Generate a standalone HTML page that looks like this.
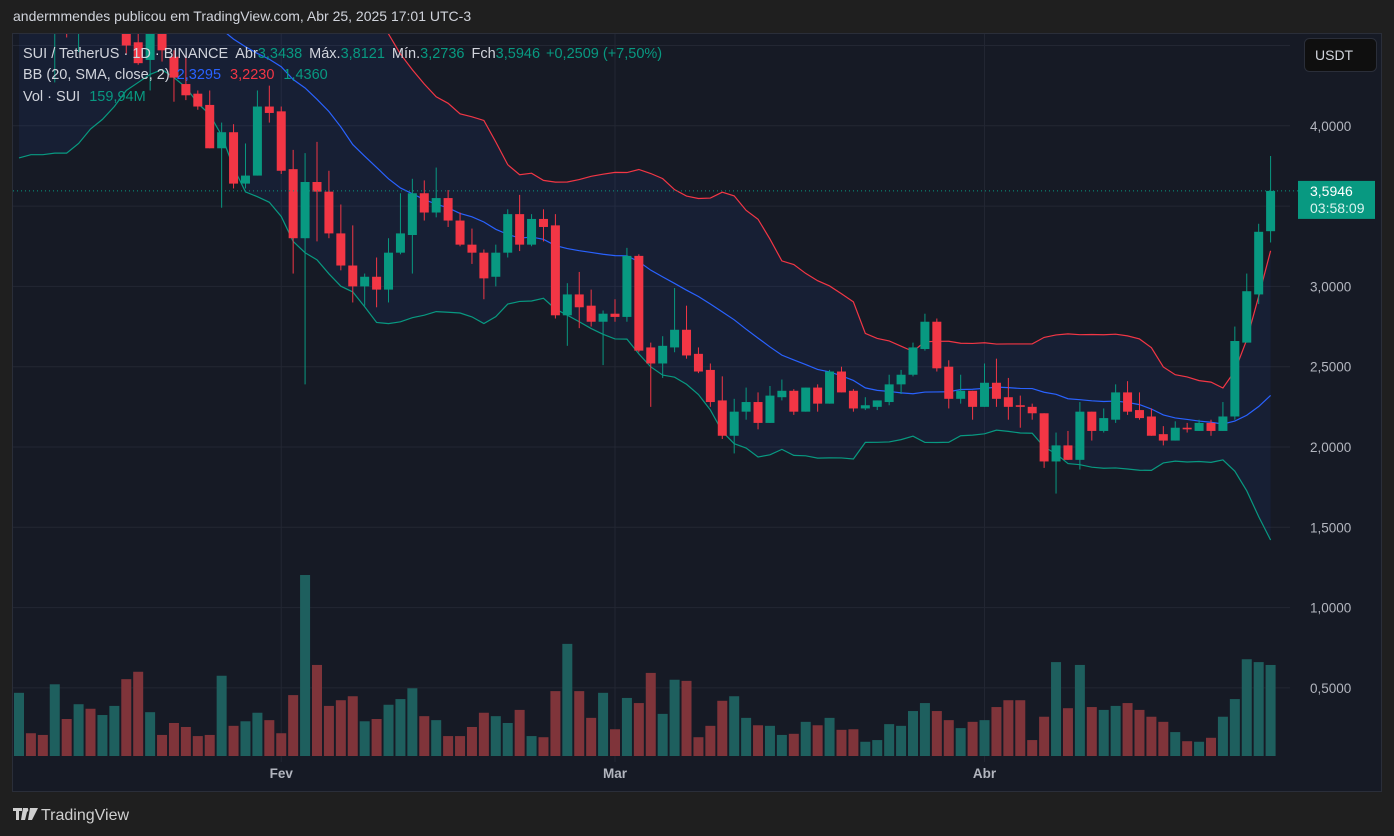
<!DOCTYPE html>
<html><head><meta charset="utf-8"><title>SUI / TetherUS</title>
<style>
html,body{margin:0;padding:0;background:#1f1f1f;width:1394px;height:836px;overflow:hidden;font-family:"Liberation Sans",sans-serif;}
svg{display:block}
</style></head>
<body>
<svg id="chart" width="1394" height="836" xmlns="http://www.w3.org/2000/svg" font-family="Liberation Sans, sans-serif">
  <rect x="0" y="0" width="1394" height="836" fill="#1f1f1f"/>
  <text x="13" y="21" fill="#d1d4dc" font-size="14">andermmendes publicou em TradingView.com, Abr 25, 2025 17:01 UTC-3</text>
  <rect x="12.5" y="33.5" width="1369" height="758" fill="#161a25" stroke="#2a2e39" stroke-width="1"/>
  <defs><clipPath id="plotClip"><rect x="13" y="34" width="1277" height="757"/></clipPath></defs>
  <g id="grid"></g>
  <g id="bands" clip-path="url(#plotClip)"></g>
  <g id="vols" clip-path="url(#plotClip)"></g>
  <g id="candles" clip-path="url(#plotClip)"></g>
  <g id="axes"></g>
  <g font-size="14.5">
    <text x="23" y="58"><tspan fill="#d1d4dc">SUI / TetherUS · 1D · BINANCE</tspan><tspan fill="#d1d4dc" dx="7">Abr</tspan><tspan fill="#089981">3,3438</tspan><tspan fill="#d1d4dc" dx="7">Máx.</tspan><tspan fill="#089981">3,8121</tspan><tspan fill="#d1d4dc" dx="7">Mín.</tspan><tspan fill="#089981">3,2736</tspan><tspan fill="#d1d4dc" dx="7">Fch</tspan><tspan fill="#089981">3,5946</tspan><tspan fill="#089981" dx="6">+0,2509 (+7,50%)</tspan></text>
    <text x="23" y="79"><tspan fill="#d1d4dc">BB (20, SMA, close, 2)</tspan><tspan fill="#2962ff" dx="7">2,3295</tspan><tspan fill="#f23645" dx="9">3,2230</tspan><tspan fill="#089981" dx="9">1,4360</tspan></text>
    <text x="23" y="101"><tspan fill="#d1d4dc">Vol · SUI</tspan><tspan fill="#089981" dx="9">159,94M</tspan></text>
  </g>
  <g>
    <rect x="1304.5" y="38.5" width="72" height="33" rx="5" fill="#0f0f0f" stroke="#2a2e39"/>
    <text x="1315" y="60" fill="#d1d4dc" font-size="14">USDT</text>
  </g>
  <g>
    <path d="M13 808h9v3h-3v9h-3v-9h-3z M23 808h5l-3 12h-4z" fill="#cfcfcf"/>
    <circle cx="26.5" cy="810" r="1.8" fill="#cfcfcf"/>
    <path d="M30 808h8l-6 12h-4z" fill="#cfcfcf"/>
    <text x="41" y="820" fill="#cfcfcf" font-size="16">TradingView</text>
  </g>
</svg>
<script>
// ---- data ----
const opens  = [4.70,4.95,4.80,4.65,4.90,4.70,5.00,4.85,5.05,5.20,4.52,4.41,4.62,4.43,4.26,4.20,4.13,3.86,3.96,3.64,3.69,4.12,4.09,3.73,3.30,3.65,3.59,3.33,3.13,3.00,3.06,2.98,3.21,3.32,3.58,3.46,3.55,3.41,3.26,3.21,3.06,3.21,3.45,3.26,3.42,3.38,2.82,2.95,2.88,2.78,2.83,2.81,3.19,2.62,2.52,2.62,2.73,2.58,2.48,2.29,2.07,2.22,2.28,2.15,2.31,2.35,2.22,2.37,2.27,2.47,2.35,2.24,2.25,2.28,2.39,2.45,2.61,2.78,2.50,2.30,2.35,2.25,2.40,2.31,2.26,2.25,2.21,1.91,2.01,1.92,2.22,2.10,2.17,2.34,2.23,2.19,2.08,2.04,2.12,2.10,2.15,2.10,2.19,2.65,2.95,3.3438];
const closes = [4.95,4.80,4.65,4.90,4.70,5.00,4.85,5.05,5.20,4.50,4.39,4.62,4.47,4.30,4.19,4.12,3.86,3.96,3.64,3.69,4.12,4.08,3.72,3.30,3.65,3.59,3.33,3.13,3.00,3.06,2.98,3.21,3.33,3.58,3.46,3.55,3.41,3.26,3.21,3.05,3.21,3.45,3.26,3.42,3.37,2.82,2.95,2.87,2.78,2.83,2.81,3.19,2.60,2.52,2.63,2.73,2.57,2.47,2.28,2.07,2.22,2.28,2.15,2.32,2.35,2.22,2.37,2.27,2.47,2.34,2.24,2.26,2.29,2.39,2.45,2.62,2.78,2.49,2.30,2.35,2.25,2.40,2.30,2.25,2.25,2.21,1.91,2.01,1.92,2.22,2.10,2.18,2.34,2.22,2.18,2.07,2.04,2.12,2.11,2.15,2.10,2.19,2.66,2.97,3.34,3.5946];
const highs  = [5.10,5.05,4.90,5.00,5.00,5.10,5.10,5.20,5.30,5.30,4.65,4.75,4.70,4.47,4.44,4.22,4.22,4.02,4.01,3.89,4.22,4.25,4.12,3.85,3.83,3.90,3.72,3.51,3.38,3.08,3.18,3.30,3.58,3.67,3.66,3.74,3.60,3.46,3.36,3.23,3.26,3.48,3.57,3.45,3.48,3.45,3.02,3.09,2.98,2.85,2.92,3.24,3.20,2.65,2.69,2.99,2.88,2.62,2.52,2.44,2.30,2.37,2.34,2.38,2.42,2.36,2.37,2.39,2.48,2.50,2.36,2.31,2.29,2.45,2.48,2.65,2.83,2.80,2.54,2.45,2.35,2.52,2.55,2.43,2.32,2.27,2.21,2.09,2.10,2.28,2.22,2.24,2.39,2.41,2.34,2.24,2.13,2.16,2.15,2.17,2.17,2.28,2.75,3.08,3.39,3.8121];
const lows   = [4.60,4.70,4.60,4.27,4.55,4.46,4.70,4.75,4.95,4.45,4.38,4.22,4.40,4.15,4.16,4.10,3.86,3.49,3.61,3.61,3.69,4.02,3.70,3.08,2.39,3.28,3.30,3.10,2.90,2.88,2.87,2.90,3.20,3.08,3.41,3.43,3.37,3.25,3.14,2.92,3.00,3.18,3.22,3.25,3.28,2.80,2.63,2.74,2.75,2.51,2.78,2.78,2.59,2.25,2.43,2.59,2.55,2.46,2.25,2.05,1.96,2.17,2.11,2.15,2.29,2.20,2.22,2.22,2.27,2.34,2.22,2.23,2.23,2.26,2.33,2.44,2.60,2.47,2.24,2.27,2.17,2.25,2.25,2.17,2.12,2.17,1.87,1.71,1.92,1.86,2.04,2.09,2.15,2.20,2.17,2.07,2.01,2.04,2.09,2.10,2.07,2.10,2.17,2.65,2.89,3.2736];
const volumes = [111,40,37,126,65,91,83,72,88,135,148,77,37,58,51,35,37,141,53,61,76,63,40,107,318,160,88,98,105,61,65,90,100,119,70,63,35,35,51,76,70,58,81,35,33,114,197,114,67,111,47,102,93,146,74,134,132,33,53,97,105,67,54,53,37,39,60,54,67,46,47,25,28,56,53,79,93,79,63,49,60,63,86,98,98,28,69,165,84,160,86,81,88,93,81,69,60,42,26,25,32,69,100,170,165,159.94];
// Bollinger values before a full 20-bar window exists
const bbLowerEarly = [3.80,3.82,3.82,3.83,3.83,3.89,3.98,4.04,4.12,4.22,4.27,4.32,4.35,4.30,4.24,4.14,4.07,3.94,3.74];
const bbMidEarly   = [4.95,4.95,4.95,4.95,4.95,4.95,4.95,4.93,4.92,4.90,4.88,4.85,4.82,4.78,4.74,4.70,4.65,4.60,4.54];
const priceTicks = [4.5,4,3.5,3,2.5,2,1.5,1,0.5];
const priceTickLabels = ['', '4,0000', '', '3,0000', '2,5000', '2,0000', '1,5000', '1,0000', '0,5000'];
const timeTickIdx = [22,50,81];
const timeTickLabels = ['Fev','Mar','Abr'];
const lastPriceLabel = '3,5946';
const countdownLabel = '03:58:09';

// ---- scales ----
const NS='http://www.w3.org/2000/svg';
const yP = p => 447 - (p-2)*160.6;
const xI = i => 19 + i*11.92;
const yV = v => 756 - v/1.757;
function mk(tag, attrs, parent){const e=document.createElementNS(NS,tag);for(const k in attrs)e.setAttribute(k,attrs[k]);parent.appendChild(e);return e;}
const gGrid=document.getElementById('grid'), gBands=document.getElementById('bands'), gVol=document.getElementById('vols'), gC=document.getElementById('candles'), gAx=document.getElementById('axes');

// grid
priceTicks.forEach((p,k)=>{
  const l=mk('line',{x1:13,x2:1290,y1:yP(p),y2:yP(p),stroke:'#232733','stroke-width':1},gGrid);
  
  
  if(priceTickLabels[k]){
    const t=mk('text',{x:1310,y:yP(p)+5,fill:'#b2b5be','font-size':13.5},gAx);
    t.textContent=priceTickLabels[k];
    
    
  }
});
timeTickIdx.forEach((idx,k)=>{
  const l=mk('line',{x1:xI(idx),x2:xI(idx),y1:34,y2:762,stroke:'#232733','stroke-width':1},gGrid);
  
  
  const t=mk('text',{x:xI(idx),y:778,fill:'#b2b5be','font-size':13.5,'font-weight':'bold','text-anchor':'middle'},gAx);
  t.textContent=timeTickLabels[k];
  
  
});

// bollinger
const mid=[],up=[],lo=[];
for(let i=0;i<closes.length;i++){
  if(i<19){mid.push(bbMidEarly[i]);lo.push(bbLowerEarly[i]);up.push(2*bbMidEarly[i]-bbLowerEarly[i]);continue;}
  const w=closes.slice(i-19,i+1);const m=w.reduce((a,b)=>a+b,0)/20;
  const sd=Math.sqrt(w.reduce((a,b)=>a+(b-m)*(b-m),0)/20);
  mid.push(m);up.push(m+2*sd);lo.push(m-2*sd);
}
const ptsU=up.map((v,i)=>xI(i)+','+yP(v)), ptsL=lo.map((v,i)=>xI(i)+','+yP(v)), ptsM=mid.map((v,i)=>xI(i)+','+yP(v));
const fill=mk('polygon',{points:ptsU.concat(ptsL.slice().reverse()).join(' '),fill:'rgba(41,98,255,0.07)'},gBands);


const lu=mk('polyline',{points:ptsU.join(' '),fill:'none',stroke:'#f23645','stroke-width':1.2},gBands);


const lm=mk('polyline',{points:ptsM.join(' '),fill:'none',stroke:'#2962ff','stroke-width':1.2},gBands);


const ll=mk('polyline',{points:ptsL.join(' '),fill:'none',stroke:'#089981','stroke-width':1.2},gBands);



// volume + candles
for(let i=0;i<closes.length;i++){
  const upC=closes[i]>=opens[i];
  const x=xI(i);
  const vb=mk('rect',{x:x-5,y:yV(volumes[i]),width:10,height:756-yV(volumes[i]),fill:upC?'#1e5f5e':'#7f343a'},gVol);
  
  
  const col=upC?'#089981':'#f23645';
  const wk=mk('line',{x1:x,x2:x,y1:yP(highs[i]),y2:yP(lows[i]),stroke:col,'stroke-width':1},gC);
  
  
  const t=Math.min(yP(opens[i]),yP(closes[i])), h=Math.max(1,Math.abs(yP(opens[i])-yP(closes[i])));
  const bd=mk('rect',{x:x-4.5,y:t,width:9,height:h,fill:col},gC);
  
  
}

// last price line + label
const lastY=yP(closes[closes.length-1]);
const pl=mk('line',{x1:13,x2:1298,y1:lastY,y2:lastY,stroke:'#089981','stroke-width':1,'stroke-dasharray':'1 3'},gAx);


const lb=mk('rect',{x:1298,y:lastY-10,width:77,height:38,fill:'#089981'},gAx);


const lt=mk('text',{x:1310,y:lastY+5,fill:'#ffffff','font-size':14},gAx);
lt.textContent=lastPriceLabel;


const ct=mk('text',{x:1310,y:lastY+22,fill:'#d9f2ee','font-size':14},gAx);
ct.textContent=countdownLabel;


</script>
</body></html>
